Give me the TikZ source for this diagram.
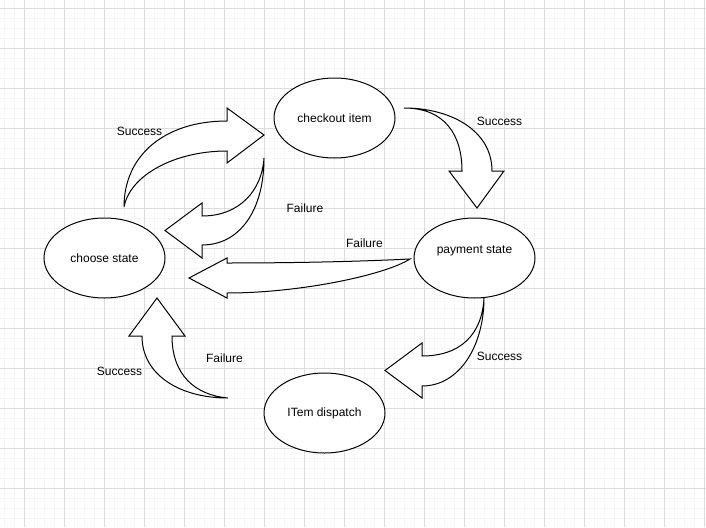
\documentclass[tikz,border=0pt]{standalone}
\usepackage{fontspec}
\setmainfont{Liberation Sans}
\usetikzlibrary{shapes.geometric}
\definecolor{gridminor}{RGB}{246,246,246}
\definecolor{gridmajor}{RGB}{220,220,220}
\tikzset{
  state/.style={ellipse, draw=black, fill=white, line width=1pt,
    minimum width=121pt, minimum height=80pt, inner sep=0pt, font=\fontsize{12}{14}\selectfont},
  blockarrow/.style={draw=black, fill=white, line width=1pt, line join=miter},
  lbl/.style={font=\fontsize{12}{14}\selectfont, inner sep=0pt}
}
\begin{document}
\begin{tikzpicture}[x=1pt,y=-1pt]
\useasboundingbox (0,0) rectangle (706,527);
\fill[white] (0,0) rectangle (706,527);
% grid
\foreach \i in {4,14,...,704} \draw[gridminor, line width=0.8pt] (\i,0) -- (\i,527);
\foreach \j in {-2,8,...,527} \draw[gridminor, line width=0.8pt] (0,\j) -- (706,\j);
\foreach \i in {24,64,...,704} \draw[gridmajor, line width=0.8pt] (\i,0) -- (\i,527);
\foreach \j in {8,48,...,527} \draw[gridmajor, line width=0.8pt] (0,\j) -- (706,\j);

% states
\node[state] (checkout) at (334.5,118) {checkout item};
\node[state] (payment) at (474.5,258) {};
\node[lbl] (paymenttxt) at (474.5,251) {payment state};
\node[state] (choose) at (104.5,258) {choose state};
\node[state] (dispatch) at (324.5,413) {ITem dispatch};

% arrow: choose -> checkout (Success)
\draw[blockarrow] (124,207) .. controls (124,155) and (165,121) .. (227,121) -- (227,108) -- (264,135) -- (227,163) -- (227,151) .. controls (175,151) and (130,175) .. (124,207) -- cycle;
% arrow: checkout -> choose (Failure)
\draw[blockarrow] (264,158) .. controls (262,190) and (240,216) .. (202,216) -- (202,203) -- (165,230.5) -- (202,258) -- (202,245) .. controls (240,245) and (264,210) .. (264,158) -- cycle;
% arrow: checkout -> payment (Success)
\draw[blockarrow] (404,108) .. controls (445,108) and (462,135) .. (462,171) -- (449,171) -- (477,208) -- (504,171) -- (492,171) .. controls (492,130) and (450,108) .. (404,108) -- cycle;
% arrow: payment -> choose (Failure)
\draw[blockarrow] (410,259) .. controls (350,262) and (280,263) .. (227,263) -- (227,258) -- (189,278) -- (227,298) -- (227,293) .. controls (300,293) and (385,275) .. (410,259) -- cycle;
% arrow: payment -> dispatch (Success)
\draw[blockarrow] (484,298) .. controls (482,335) and (460,356) .. (422,356) -- (422,343) -- (385,370.5) -- (422,398) -- (422,386) .. controls (460,386) and (484,345) .. (484,298) -- cycle;
% arrow: dispatch -> choose
\draw[blockarrow] (228,398) .. controls (195,395) and (172,375) .. (172,336) -- (185,336) -- (157,298) -- (129,336) -- (142,336) .. controls (142,375) and (180,398) .. (228,398) -- cycle;

% labels
\node[lbl] (l1) at (139.5,131.5) {Success};
\node[lbl] (l2) at (305,208) {Failure};
\node[lbl] (l3) at (499.5,121) {Success};
\node[lbl] (l4) at (364.5,243) {Failure};
\node[lbl] (l5) at (499.5,356) {Success};
\node[lbl] (l6) at (224.5,358) {Failure};
\node[lbl] (l7) at (119.5,371) {Success};
\end{tikzpicture}
\end{document}
